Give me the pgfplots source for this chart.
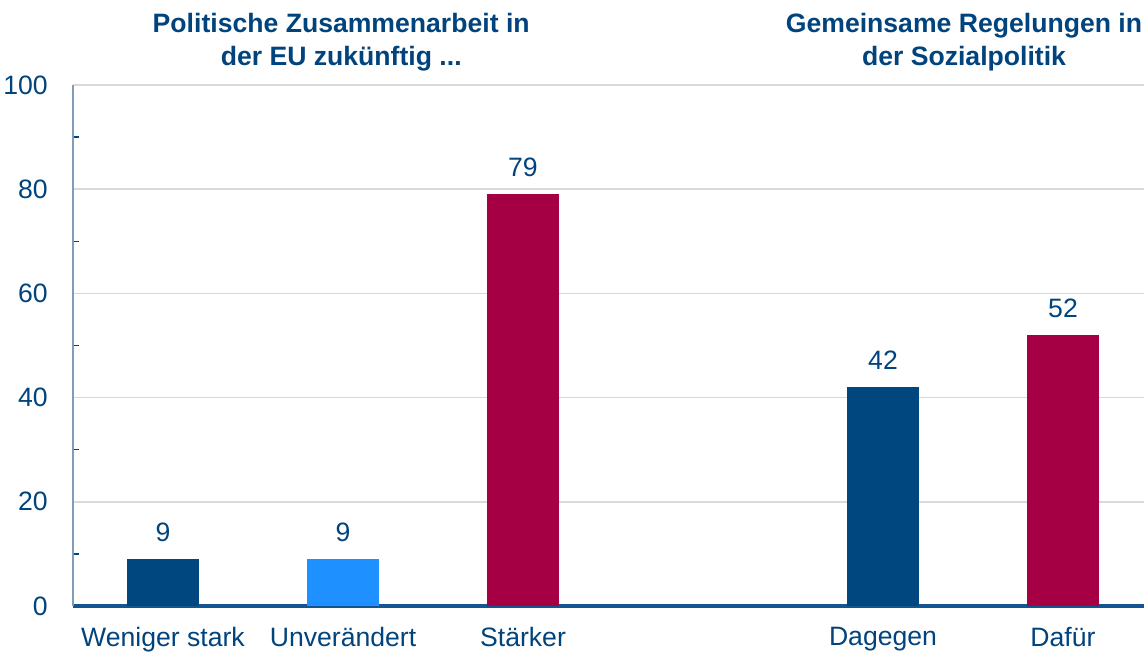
\documentclass[border=0pt]{standalone}
\usepackage{pgfplots}
\pgfplotsset{compat=1.18}
\usepackage{fontspec}
\setmainfont{Liberation Sans}
\definecolor{txtblue}{RGB}{0,67,125}
\definecolor{darkbar}{RGB}{0,70,127}
\definecolor{lightbar}{RGB}{30,144,255}
\definecolor{redbar}{RGB}{165,0,68}
\definecolor{yline}{RGB}{127,157,185}
\definecolor{xline}{RGB}{20,85,145}
\begin{document}
\fontsize{13.3}{16}\selectfont
\begin{tikzpicture}
\path[use as bounding box] (-36.5pt,-23pt) rectangle (535.5pt,303pt);
\begin{axis}[
  at={(0,0)}, anchor=south west,
  scale only axis,
  width=535.5pt, height=260.5pt,
  xmin=-0.5, xmax=5.45,
  ymin=0, ymax=100,
  ybar, bar width=36pt, bar shift=0pt,
  axis x line*=bottom, axis y line*=left,
  x axis line style={xline, line width=1.6pt, -},
  y axis line style={yline, line width=1pt, -},
  xtick={0,1,2,4,5},
  xticklabels={Weniger stark,Unverändert,Stärker,Dagegen,Dafür},
  ytick={0,20,40,60,80,100},
  minor ytick={10,30,50,70,90},
  major tick length=0pt, minor tick length=3pt,
  tick align=inside,
  minor tick style={txtblue, line width=0.6pt},
  ymajorgrids, grid style={gray!30, line width=0.8pt},
  /pgf/number format/assume math mode=true,
  tick label style={font=\fontsize{13.3}{16}\selectfont, text=txtblue},
  xticklabel style={yshift=-6pt},
  yticklabel style={xshift=-8pt},
  nodes near coords,
  every node near coord/.style={font=\fontsize{13.3}{16}\selectfont, text=txtblue, anchor=south, yshift=4pt},
  clip=false,
  axis on top=false,
]
\addplot[fill=darkbar, draw=none] coordinates {(0,9)};
\addplot[fill=lightbar, draw=none] coordinates {(1,9)};
\addplot[fill=redbar, draw=none] coordinates {(2,79)};
\addplot[fill=darkbar, draw=none] coordinates {(4,42)};
\addplot[fill=redbar, draw=none] coordinates {(5,52)};
\node[align=center, font=\bfseries\fontsize{13.3}{16.5}\selectfont, text=txtblue] at (axis cs:0.99,108.3) {Politische Zusammenarbeit in\\der EU zukünftig ...};
\node[align=center, font=\bfseries\fontsize{13.3}{16.5}\selectfont, text=txtblue] at (axis cs:4.45,108.3) {Gemeinsame Regelungen in\\der Sozialpolitik};
\end{axis}
\end{tikzpicture}
\end{document}
